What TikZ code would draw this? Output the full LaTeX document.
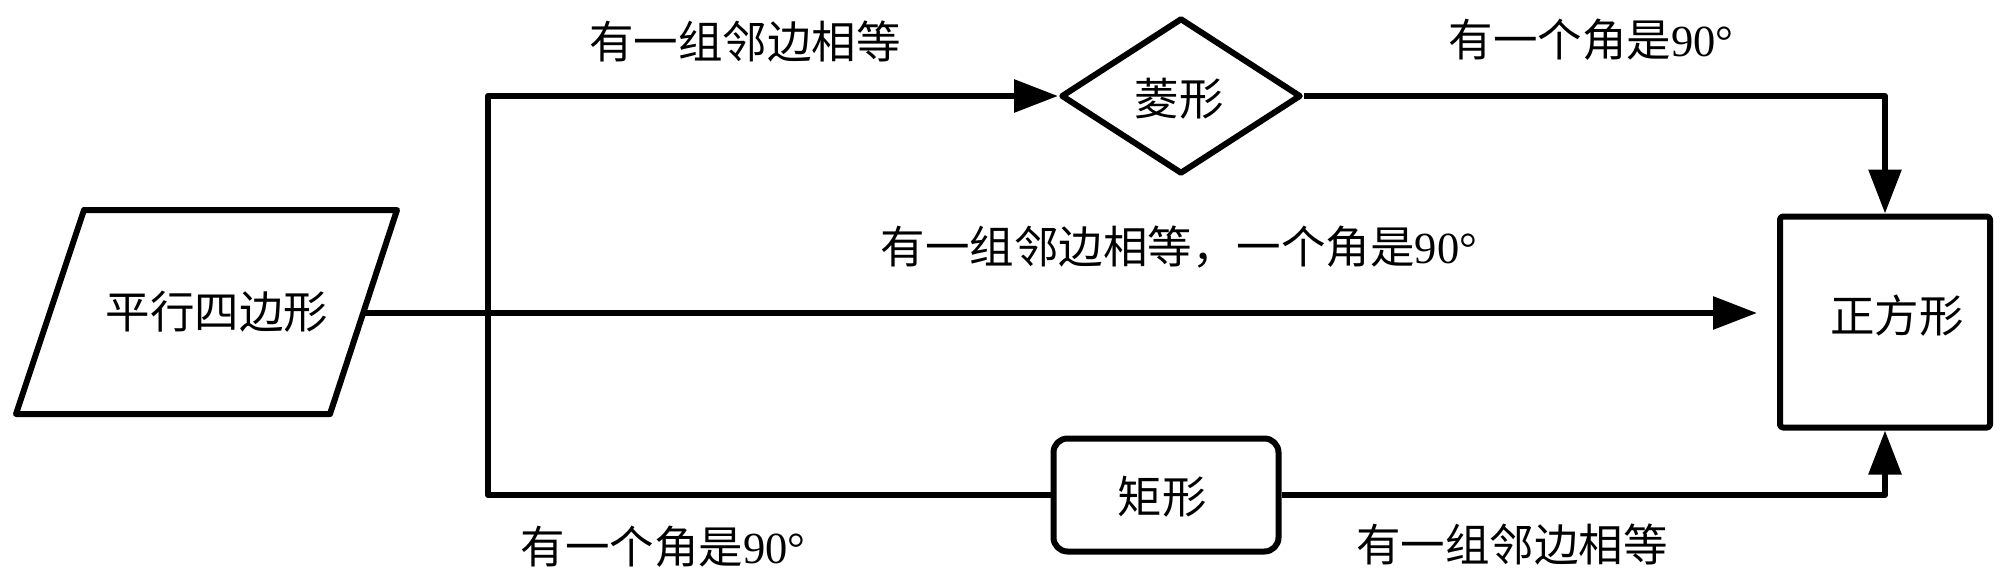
\documentclass[tikz,border=0pt]{standalone}
\usepackage{fontspec}
\setmainfont{Liberation Serif}
\newfontfamily\cjk{Noto Sans CJK SC}
\usetikzlibrary{arrows.meta,shapes.geometric}
\begin{document}
\begin{tikzpicture}[x=1pt,y=-1pt,
  line width=6pt,
  every node/.style={font=\fontsize{44.5}{52}\selectfont},
  txt/.style={inner sep=0pt},
  arr/.style={-{Triangle[length=44pt,width=32pt]}},
  rhom/.style={draw,diamond,minimum width=240pt,minimum height=156pt,inner sep=0pt},
  rrect/.style={draw,rectangle,rounded corners=14pt,minimum width=225pt,minimum height=113pt,inner sep=0pt},
  sqbox/.style={draw,rectangle,rounded corners=3pt,minimum width=210pt,minimum height=211pt,inner sep=0pt},
  line join=round]
\useasboundingbox (0,0) rectangle (2000,579);
% parallelogram
\coordinate (p1) at (84,210);
\coordinate (p2) at (397,210);
\coordinate (p3) at (330,414);
\coordinate (p4) at (16,414);
\draw (p1) -- (p2) -- (p3) -- (p4) -- cycle;
\node[txt] (par) at (217,312) {\cjk 平行四边形};
\coordinate (pe) at (364,313);
\coordinate (j) at (488,313);
% shapes
\node[rhom] (rh) at (1181,96) {};
\node[txt] (rht) at (1179,99) {\cjk 菱形};
\node[rrect] (rc) at (1166,495) {};
\node[txt] (rct) at (1162,497) {\cjk 矩形};
\node[sqbox] (sq) at (1885,322) {};
\node[txt] (sqt) at (1897,316) {\cjk 正方形};
% connectors
\draw[arr,shorten >=20pt] (pe) -- (pe -| sq.west);
\draw[arr] (j) |- (rh.west);
\draw (j) |- (rc.west);
\draw[arr] (rh.east) -| (sq.north);
\draw[arr] (rc.east) -| (sq.south);
% labels
\node[txt] (l1) at (745,42) {\cjk 有一组邻边相等};
\node[txt] (l2) at (1591,40) {{\cjk 有一个角是}90°};
\node[txt] (l3) at (1179,247) {{\cjk 有一组邻边相等，一个角是}90°};
\node[txt] (l4) at (663,547) {{\cjk 有一个角是}90°};
\node[txt] (l5) at (1512,545) {\cjk 有一组邻边相等};
\end{tikzpicture}
\end{document}
